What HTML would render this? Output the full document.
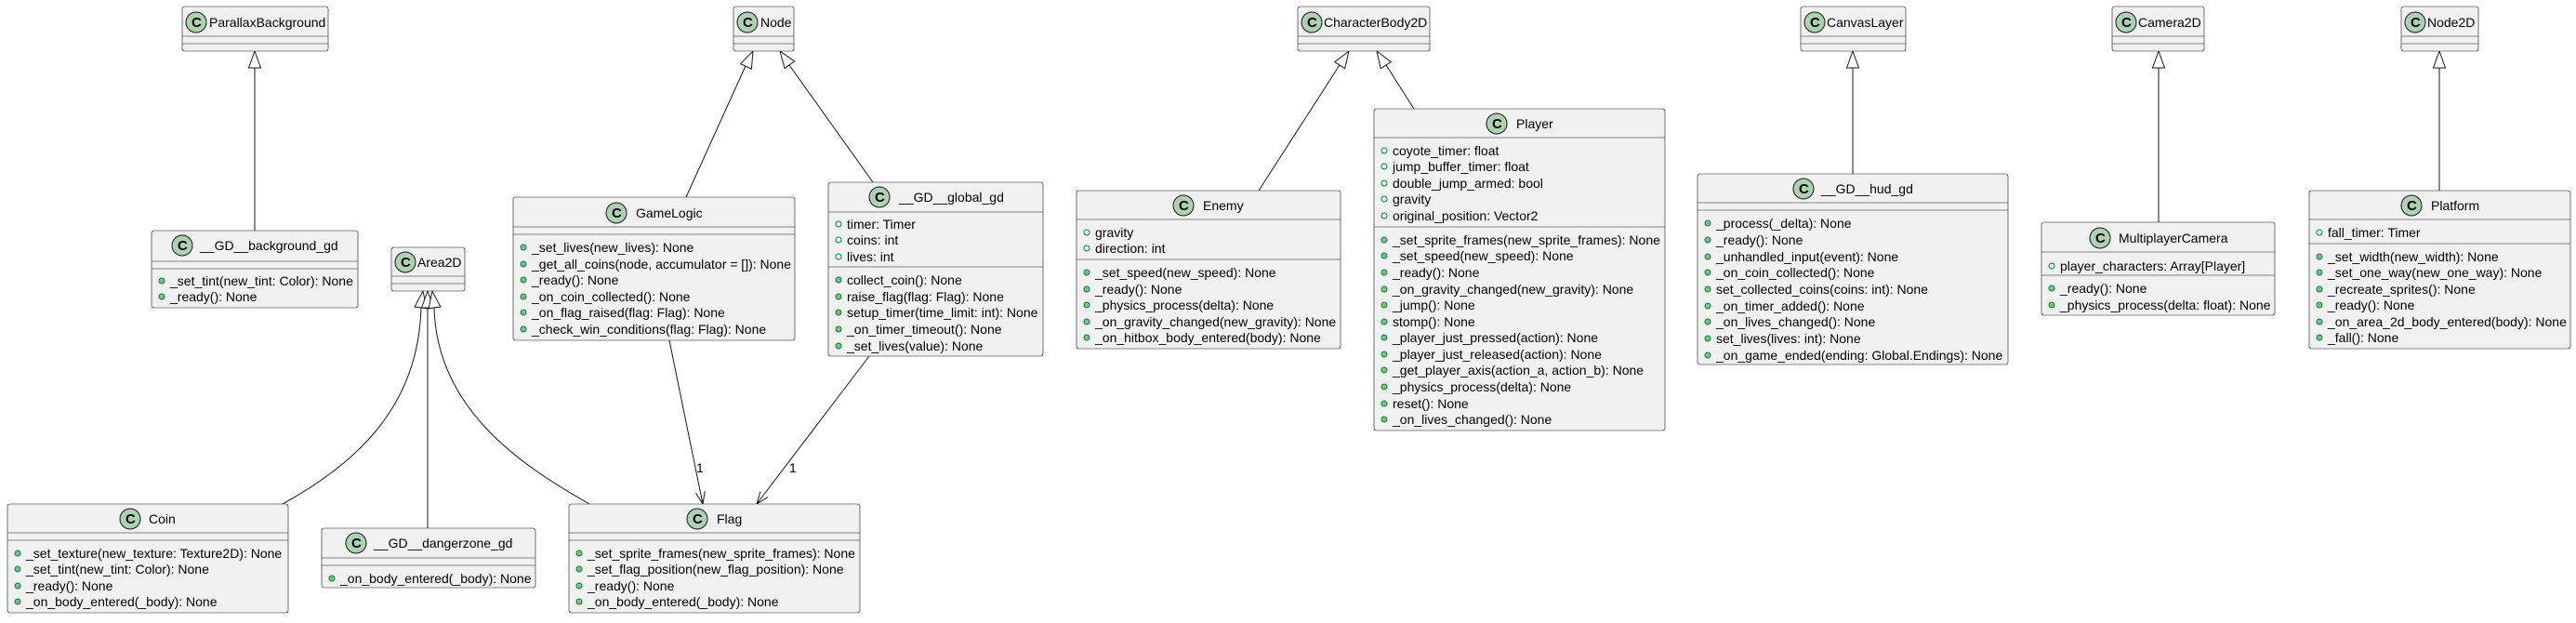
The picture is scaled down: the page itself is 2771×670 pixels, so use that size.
<!DOCTYPE html>
<html><head><meta charset="utf-8"><style>
html,body{margin:0;padding:0;background:#fff;}
svg text{font-family:"Liberation Sans",Arial,sans-serif;font-size:14px;fill:#000;}
.b{fill:#F1F1F1;stroke:#181818;stroke-width:0.6;}
.l{stroke:#181818;stroke-width:0.6;fill:none;}
.c{fill:#ADD1B2;stroke:#181818;stroke-width:1;}
.ct{font-weight:bold;font-size:15px;}
.m{fill:#84BE84;stroke:#038048;stroke-width:1;}
.f{fill:none;stroke:#038048;stroke-width:1;}
.e{stroke:#181818;stroke-width:1;fill:none;}
.t{fill:#fff;stroke:#181818;stroke-width:1;}
</style></head><body>
<svg width="2771" height="665" viewBox="0 0 2771 665" xmlns="http://www.w3.org/2000/svg">

<!-- edges -->
<line class="e" x1="274" y1="73" x2="274" y2="248"/>
<polygon class="t" points="274,55 267.5,73 280.5,73"/>
<line class="e" x1="1993" y1="73" x2="1993" y2="187"/>
<polygon class="t" points="1993,55 1986.5,73 1999.5,73"/>
<line class="e" x1="2322" y1="73" x2="2322" y2="239"/>
<polygon class="t" points="2322,55 2315.5,73 2328.5,73"/>
<line class="e" x1="2624" y1="73" x2="2624" y2="205"/>
<polygon class="t" points="2624,55 2617.5,73 2630.5,73"/>

<line class="e" x1="802" y1="71" x2="738" y2="212"/>
<g transform="translate(810,55) rotate(24.6)"><polygon class="t" points="0,0 -6.5,18 6.5,18"/></g>
<line class="e" x1="849" y1="70" x2="939" y2="196"/>
<g transform="translate(839,55) rotate(-35.3)"><polygon class="t" points="0,0 -6.5,18 6.5,18"/></g>
<line class="e" x1="1441" y1="70" x2="1354" y2="205"/>
<g transform="translate(1451,55) rotate(32.9)"><polygon class="t" points="0,0 -6.5,18 6.5,18"/></g>
<line class="e" x1="1491" y1="70" x2="1521" y2="117"/>
<g transform="translate(1481,55) rotate(-32.8)"><polygon class="t" points="0,0 -6.5,18 6.5,18"/></g>

<path class="e" d="M453,331 C450,440 380,500 304,542"/>
<line class="e" x1="460" y1="331" x2="460" y2="568"/>
<path class="e" d="M467,331 C470,440 560,500 634,542"/>
<g transform="translate(455,313) rotate(8)"><polygon class="t" points="0,0 -6.5,18 6.5,18"/></g>
<g transform="translate(460,313)"><polygon class="t" points="0,0 -6.5,18 6.5,18"/></g>
<g transform="translate(465,313) rotate(-8)"><polygon class="t" points="0,0 -6.5,18 6.5,18"/></g>

<line class="e" x1="720" y1="366" x2="756" y2="542"/>
<g transform="translate(756,542) rotate(-11.6)"><path class="e" d="M-5,-13 L0,0 L5,-13 M0,0 L0,-5"/></g>
<text x="749" y="508">1</text>
<line class="e" x1="935" y1="383" x2="814" y2="542"/>
<g transform="translate(814,542) rotate(37.3)"><path class="e" d="M-5,-13 L0,0 L5,-13 M0,0 L0,-5"/></g>
<text x="849" y="508">1</text>

<!-- parent boxes -->
<rect class="b" x="196" y="7" width="157" height="48" rx="2.5"/>
<line class="l" x1="196" y1="39" x2="353" y2="39"/><line class="l" x1="196" y1="47" x2="353" y2="47"/>
<circle class="c" cx="211" cy="24" r="11"/><text class="ct" x="206" y="29">C</text><text x="225" y="29">ParallaxBackground</text>

<rect class="b" x="789" y="7" width="65" height="48" rx="2.5"/>
<line class="l" x1="789" y1="39" x2="854" y2="39"/><line class="l" x1="789" y1="47" x2="854" y2="47"/>
<circle class="c" cx="804" cy="24" r="11"/><text class="ct" x="799" y="29">C</text><text x="818" y="29">Node</text>

<rect class="b" x="1396" y="7" width="142" height="48" rx="2.5"/>
<line class="l" x1="1396" y1="39" x2="1538" y2="39"/><line class="l" x1="1396" y1="47" x2="1538" y2="47"/>
<circle class="c" cx="1411" cy="24" r="11"/><text class="ct" x="1406" y="29">C</text><text x="1424" y="29">CharacterBody2D</text>

<rect class="b" x="1937" y="7" width="113" height="48" rx="2.5"/>
<line class="l" x1="1937" y1="39" x2="2050" y2="39"/><line class="l" x1="1937" y1="47" x2="2050" y2="47"/>
<circle class="c" cx="1952" cy="24" r="11"/><text class="ct" x="1947" y="29">C</text><text x="1965" y="29">CanvasLayer</text>

<rect class="b" x="2272" y="7" width="99" height="48" rx="2.5"/>
<line class="l" x1="2272" y1="39" x2="2371" y2="39"/><line class="l" x1="2272" y1="47" x2="2371" y2="47"/>
<circle class="c" cx="2287" cy="24" r="11"/><text class="ct" x="2282" y="29">C</text><text x="2300" y="29">Camera2D</text>

<rect class="b" x="2583" y="7" width="83" height="48" rx="2.5"/>
<line class="l" x1="2583" y1="39" x2="2666" y2="39"/><line class="l" x1="2583" y1="47" x2="2666" y2="47"/>
<circle class="c" cx="2598" cy="24" r="11"/><text class="ct" x="2593" y="29">C</text><text x="2611" y="29">Node2D</text>

<rect class="b" x="421" y="266" width="79" height="47" rx="2.5"/>
<line class="l" x1="421" y1="297" x2="500" y2="297"/><line class="l" x1="421" y1="305" x2="500" y2="305"/>
<circle class="c" cx="436" cy="282" r="11"/><text class="ct" x="431" y="287">C</text><text x="449" y="287">Area2D</text>

<!-- __GD__background_gd -->
<rect class="b" x="163" y="248" width="222" height="83" rx="2.5"/>
<line class="l" x1="163" y1="281" x2="385" y2="281"/><line class="l" x1="163" y1="289" x2="385" y2="289"/>
<circle class="c" cx="196" cy="264" r="11"/><text class="ct" x="191" y="269">C</text><text x="215" y="269">__GD__background_gd</text>
<circle class="m" cx="174" cy="302" r="3"/><text x="183" y="307">_set_tint(new_tint: Color): None</text>
<circle class="m" cx="174" cy="319" r="3"/><text x="183" y="324">_ready(): None</text>

<!-- GameLogic -->
<rect class="b" x="552" y="212" width="303" height="154" rx="2.5"/>
<line class="l" x1="552" y1="244" x2="855" y2="244"/><line class="l" x1="552" y1="252" x2="855" y2="252"/>
<circle class="c" cx="663" cy="229" r="11"/><text class="ct" x="658" y="234">C</text><text x="684" y="234">GameLogic</text>
<circle class="m" cx="563" cy="266" r="3"/><text x="572" y="271">_set_lives(new_lives): None</text>
<circle class="m" cx="563" cy="284" r="3"/><text x="572" y="289">_get_all_coins(node, accumulator = []): None</text>
<circle class="m" cx="563" cy="301" r="3"/><text x="572" y="306">_ready(): None</text>
<circle class="m" cx="563" cy="319" r="3"/><text x="572" y="324">_on_coin_collected(): None</text>
<circle class="m" cx="563" cy="336" r="3"/><text x="572" y="341">_on_flag_raised(flag: Flag): None</text>
<circle class="m" cx="563" cy="354" r="3"/><text x="572" y="359">_check_win_conditions(flag: Flag): None</text>

<!-- __GD__global_gd -->
<rect class="b" x="891" y="196" width="231" height="187" rx="2.5"/>
<line class="l" x1="891" y1="228" x2="1122" y2="228"/><line class="l" x1="891" y1="287" x2="1122" y2="287"/>
<circle class="c" cx="946" cy="212" r="11"/><text class="ct" x="941" y="217">C</text><text x="967" y="217">__GD__global_gd</text>
<circle class="f" cx="902" cy="241" r="3"/><text x="911" y="246">timer: Timer</text>
<circle class="f" cx="902" cy="258" r="3"/><text x="911" y="263">coins: int</text>
<circle class="f" cx="902" cy="276" r="3"/><text x="911" y="281">lives: int</text>
<circle class="m" cx="902" cy="301" r="3"/><text x="911" y="306">collect_coin(): None</text>
<circle class="m" cx="902" cy="319" r="3"/><text x="911" y="324">raise_flag(flag: Flag): None</text>
<circle class="m" cx="902" cy="336" r="3"/><text x="911" y="341">setup_timer(time_limit: int): None</text>
<circle class="m" cx="902" cy="354" r="3"/><text x="911" y="359">_on_timer_timeout(): None</text>
<circle class="m" cx="902" cy="372" r="3"/><text x="911" y="377">_set_lives(value): None</text>

<!-- Coin -->
<rect class="b" x="8" y="542" width="302" height="117" rx="2.5"/>
<line class="l" x1="8" y1="573" x2="310" y2="573"/><line class="l" x1="8" y1="581" x2="310" y2="581"/>
<circle class="c" cx="140" cy="558" r="11"/><text class="ct" x="135" y="563">C</text><text x="160" y="563">Coin</text>
<circle class="m" cx="19" cy="595" r="3"/><text x="28" y="600">_set_texture(new_texture: Texture2D): None</text>
<circle class="m" cx="19" cy="612" r="3"/><text x="28" y="617">_set_tint(new_tint: Color): None</text>
<circle class="m" cx="19" cy="630" r="3"/><text x="28" y="635">_ready(): None</text>
<circle class="m" cx="19" cy="647" r="3"/><text x="28" y="652">_on_body_entered(_body): None</text>

<!-- dangerzone -->
<rect class="b" x="346" y="568" width="230" height="64" rx="2.5"/>
<line class="l" x1="346" y1="600" x2="576" y2="600"/><line class="l" x1="346" y1="608" x2="576" y2="608"/>
<circle class="c" cx="383" cy="584" r="11"/><text class="ct" x="378" y="589">C</text><text x="402" y="589">__GD__dangerzone_gd</text>
<circle class="m" cx="357" cy="622" r="3"/><text x="366" y="627">_on_body_entered(_body): None</text>

<!-- Flag -->
<rect class="b" x="612" y="542" width="313" height="117" rx="2.5"/>
<line class="l" x1="612" y1="573" x2="925" y2="573"/><line class="l" x1="612" y1="581" x2="925" y2="581"/>
<circle class="c" cx="750" cy="558" r="11"/><text class="ct" x="745" y="563">C</text><text x="771" y="563">Flag</text>
<circle class="m" cx="623" cy="595" r="3"/><text x="632" y="600">_set_sprite_frames(new_sprite_frames): None</text>
<circle class="m" cx="623" cy="612" r="3"/><text x="632" y="617">_set_flag_position(new_flag_position): None</text>
<circle class="m" cx="623" cy="630" r="3"/><text x="632" y="635">_ready(): None</text>
<circle class="m" cx="623" cy="647" r="3"/><text x="632" y="652">_on_body_entered(_body): None</text>

<!-- Enemy -->
<rect class="b" x="1158" y="205" width="284" height="170" rx="2.5"/>
<line class="l" x1="1158" y1="236" x2="1442" y2="236"/><line class="l" x1="1158" y1="279" x2="1442" y2="279"/>
<circle class="c" cx="1273" cy="221" r="11"/><text class="ct" x="1268" y="226">C</text><text x="1294" y="226">Enemy</text>
<circle class="f" cx="1169" cy="250" r="3"/><text x="1178" y="255">gravity</text>
<circle class="f" cx="1169" cy="267" r="3"/><text x="1178" y="272">direction: int</text>
<circle class="m" cx="1169" cy="293" r="3"/><text x="1178" y="298">_set_speed(new_speed): None</text>
<circle class="m" cx="1169" cy="311" r="3"/><text x="1178" y="316">_ready(): None</text>
<circle class="m" cx="1169" cy="328" r="3"/><text x="1178" y="333">_physics_process(delta): None</text>
<circle class="m" cx="1169" cy="346" r="3"/><text x="1178" y="351">_on_gravity_changed(new_gravity): None</text>
<circle class="m" cx="1169" cy="363" r="3"/><text x="1178" y="368">_on_hitbox_body_entered(body): None</text>

<!-- Player -->
<rect class="b" x="1478" y="117" width="313" height="346" rx="2.5"/>
<line class="l" x1="1478" y1="148" x2="1791" y2="148"/><line class="l" x1="1478" y1="244" x2="1791" y2="244"/>
<circle class="c" cx="1610" cy="133" r="11"/><text class="ct" x="1605" y="138">C</text><text x="1631" y="138">Player</text>
<circle class="f" cx="1489" cy="162" r="3"/><text x="1498" y="167">coyote_timer: float</text>
<circle class="f" cx="1489" cy="179" r="3"/><text x="1498" y="184">jump_buffer_timer: float</text>
<circle class="f" cx="1489" cy="197" r="3"/><text x="1498" y="202">double_jump_armed: bool</text>
<circle class="f" cx="1489" cy="214" r="3"/><text x="1498" y="219">gravity</text>
<circle class="f" cx="1489" cy="232" r="3"/><text x="1498" y="237">original_position: Vector2</text>
<circle class="m" cx="1489" cy="258" r="3"/><text x="1498" y="263">_set_sprite_frames(new_sprite_frames): None</text>
<circle class="m" cx="1489" cy="275" r="3"/><text x="1498" y="280">_set_speed(new_speed): None</text>
<circle class="m" cx="1489" cy="293" r="3"/><text x="1498" y="298">_ready(): None</text>
<circle class="m" cx="1489" cy="311" r="3"/><text x="1498" y="316">_on_gravity_changed(new_gravity): None</text>
<circle class="m" cx="1489" cy="328" r="3"/><text x="1498" y="333">_jump(): None</text>
<circle class="m" cx="1489" cy="346" r="3"/><text x="1498" y="351">stomp(): None</text>
<circle class="m" cx="1489" cy="363" r="3"/><text x="1498" y="368">_player_just_pressed(action): None</text>
<circle class="m" cx="1489" cy="381" r="3"/><text x="1498" y="386">_player_just_released(action): None</text>
<circle class="m" cx="1489" cy="398" r="3"/><text x="1498" y="403">_get_player_axis(action_a, action_b): None</text>
<circle class="m" cx="1489" cy="416" r="3"/><text x="1498" y="421">_physics_process(delta): None</text>
<circle class="m" cx="1489" cy="434" r="3"/><text x="1498" y="439">reset(): None</text>
<circle class="m" cx="1489" cy="451" r="3"/><text x="1498" y="456">_on_lives_changed(): None</text>

<!-- hud -->
<rect class="b" x="1826" y="187" width="334" height="205" rx="2.5"/>
<line class="l" x1="1826" y1="218" x2="2160" y2="218"/><line class="l" x1="1826" y1="226" x2="2160" y2="226"/>
<circle class="c" cx="1940" cy="203" r="11"/><text class="ct" x="1935" y="208">C</text><text x="1959" y="208">__GD__hud_gd</text>
<circle class="m" cx="1837" cy="240" r="3"/><text x="1846" y="245">_process(_delta): None</text>
<circle class="m" cx="1837" cy="258" r="3"/><text x="1846" y="263">_ready(): None</text>
<circle class="m" cx="1837" cy="276" r="3"/><text x="1846" y="281">_unhandled_input(event): None</text>
<circle class="m" cx="1837" cy="293" r="3"/><text x="1846" y="298">_on_coin_collected(): None</text>
<circle class="m" cx="1837" cy="311" r="3"/><text x="1846" y="316">set_collected_coins(coins: int): None</text>
<circle class="m" cx="1837" cy="329" r="3"/><text x="1846" y="334">_on_timer_added(): None</text>
<circle class="m" cx="1837" cy="346" r="3"/><text x="1846" y="351">_on_lives_changed(): None</text>
<circle class="m" cx="1837" cy="364" r="3"/><text x="1846" y="369">set_lives(lives: int): None</text>
<circle class="m" cx="1837" cy="382" r="3"/><text x="1846" y="387">_on_game_ended(ending: Global.Endings): None</text>

<!-- MultiplayerCamera -->
<rect class="b" x="2196" y="239" width="251" height="100" rx="2.5"/>
<line class="l" x1="2196" y1="271" x2="2447" y2="271"/><line class="l" x1="2196" y1="296" x2="2447" y2="296"/>
<circle class="c" cx="2259" cy="256" r="11"/><text class="ct" x="2254" y="261">C</text><text x="2279" y="261">MultiplayerCamera</text>
<circle class="f" cx="2207" cy="286" r="3"/><text x="2216" y="291">player_characters: Array[Player]</text>
<circle class="m" cx="2207" cy="310" r="3"/><text x="2216" y="315">_ready(): None</text>
<circle class="m" cx="2207" cy="328" r="3"/><text x="2216" y="333">_physics_process(delta: float): None</text>

<!-- Platform -->
<rect class="b" x="2484" y="205" width="281" height="170" rx="2.5"/>
<line class="l" x1="2484" y1="236" x2="2765" y2="236"/><line class="l" x1="2484" y1="262" x2="2765" y2="262"/>
<circle class="c" cx="2594" cy="221" r="11"/><text class="ct" x="2589" y="226">C</text><text x="2615" y="226">Platform</text>
<circle class="f" cx="2495" cy="250" r="3"/><text x="2504" y="255">fall_timer: Timer</text>
<circle class="m" cx="2495" cy="276" r="3"/><text x="2504" y="281">_set_width(new_width): None</text>
<circle class="m" cx="2495" cy="293" r="3"/><text x="2504" y="298">_set_one_way(new_one_way): None</text>
<circle class="m" cx="2495" cy="311" r="3"/><text x="2504" y="316">_recreate_sprites(): None</text>
<circle class="m" cx="2495" cy="328" r="3"/><text x="2504" y="333">_ready(): None</text>
<circle class="m" cx="2495" cy="346" r="3"/><text x="2504" y="351">_on_area_2d_body_entered(body): None</text>
<circle class="m" cx="2495" cy="363" r="3"/><text x="2504" y="368">_fall(): None</text>
</svg>
</body></html>
